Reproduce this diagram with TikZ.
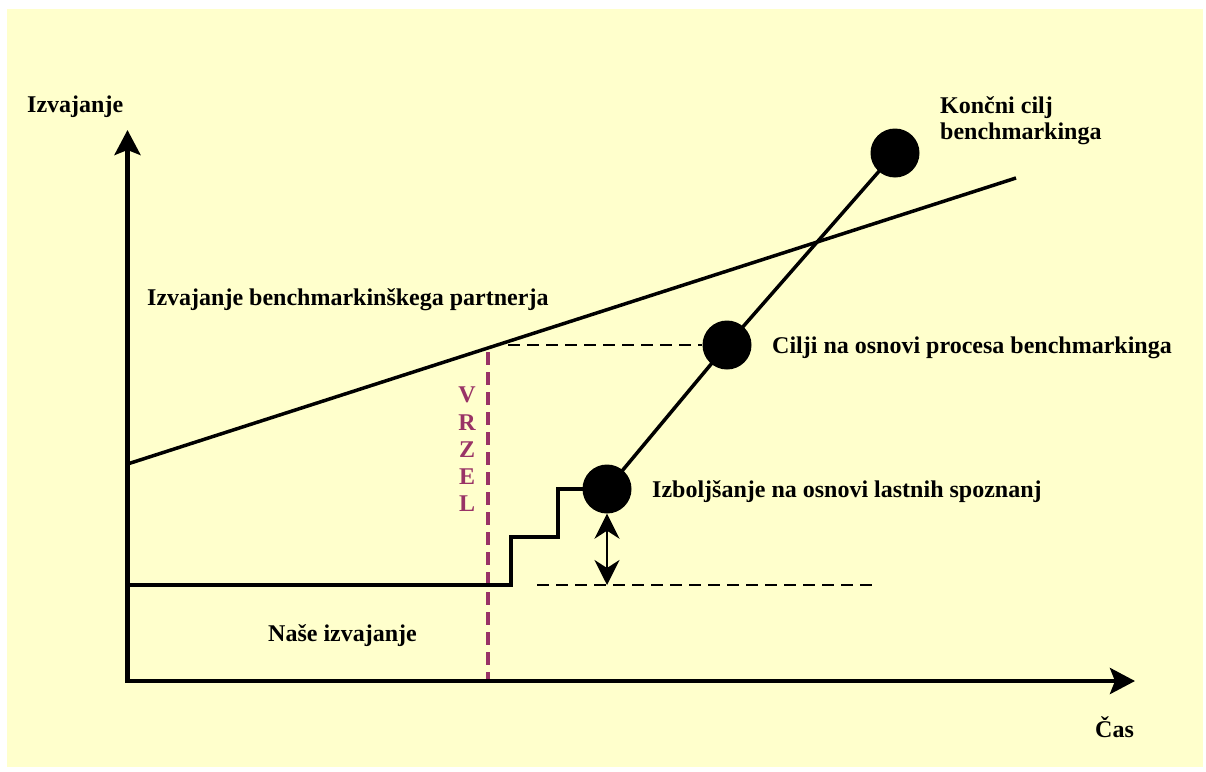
\documentclass[tikz,border=0pt]{standalone}
\usepackage{fontspec}
\setmainfont{Liberation Serif}
\usetikzlibrary{arrows.meta}
\definecolor{paper}{RGB}{255,255,204}
\definecolor{gapcol}{RGB}{153,51,102}
\begin{document}
\begin{tikzpicture}[x=1pt,y=-1pt,
  lbl/.style={font=\bfseries\fontsize{24}{26}\selectfont, inner sep=0pt, anchor=base west},
  axis/.style={line width=4.5pt, line join=miter,
    {Stealth[length=25pt,width=26pt,inset=5pt]}-{Stealth[length=25pt,width=26pt,inset=5pt]}},
  span/.style={line width=2.5pt,
    {Stealth[length=25pt,width=25pt,inset=8pt]}-{Stealth[length=25pt,width=25pt,inset=8pt]}},
  trend/.style={line width=3.5pt},
  dot/.style={circle, fill=black, minimum size=49pt, inner sep=0pt},
  guide/.style={line width=2pt, dash pattern=on 12pt off 7pt},
  gapline/.style={gapcol, line width=4pt, dash pattern=on 13pt off 7pt},
  gaptxt/.style={font=\bfseries\fontsize{24}{26}\selectfont, text=gapcol, inner sep=0pt, anchor=base}]
\useasboundingbox (0,0) rectangle (1206,771);
\fill[white] (0,0) rectangle (1206,771);
\fill[paper] (7,9) rectangle (1203,767);

% axes
\coordinate (O) at (127.5,681);
\coordinate (ytip) at (127.5,130);
\coordinate (xtip) at (1135,681);

% benchmarking partner trend
\coordinate (pa) at (127.5,464);
\coordinate (pb) at (1016,178);

% own performance steps
\coordinate (s0) at (127.5,585);
\coordinate (s1) at (511,585);
\coordinate (s2) at (511,537);
\coordinate (s3) at (558,537);
\coordinate (s4) at (558,489);

% goal markers
\node[dot] (c1) at (607,489) {};
\node[dot] (c2) at (727,345) {};
\node[dot] (c3) at (895,153) {};

% guide lines
\coordinate (g1) at (508,345);
\coordinate (g2) at (537,585);
\coordinate (g3) at (873,585);
\coordinate (g4) at (607,585);
\coordinate (v0) at (487.5,352);
\coordinate (v1) at (487.5,683);

\draw[gapline] (v0) -- (v1);
\draw[guide] (g1) -- (c2.west);
\draw[guide] (g2) -- (g3);
\draw[axis] (ytip) -- (O) -- (xtip);
\draw[trend] (pa) -- (pb);
\draw[trend] (s0) -- (s1) -- (s2) -- (s3) -- (s4) -- (c1.center);
\draw[trend] (c1.center) -- (c2.center) -- (c3.center);
\draw[span] (c1.south) -- (g4);

% labels
\node[lbl] (ly) at (27,112) {Izvajanje};
\node[lbl] (lx) at (1095,737) {Čas};
\node[lbl, anchor=north west, align=left] (lgoal) at (940,96) {Končni cilj\\benchmarkinga};
\node[lbl] (lpartner) at (147,305) {Izvajanje benchmarkinškega partnerja};
\node[lbl] (lproc) at (772,353) {Cilji na osnovi procesa benchmarkinga};
\node[lbl] (lown) at (652,497) {Izboljšanje na osnovi lastnih spoznanj};
\node[lbl] (lours) at (268,641) {Naše izvajanje};

% gap label
\node[gaptxt] (gv) at (467,402) {V};
\node[gaptxt] (gr) at (467,430) {R};
\node[gaptxt] (gz) at (467,457) {Z};
\node[gaptxt] (ge) at (467,484) {E};
\node[gaptxt] (gl) at (467,511) {L};
\end{tikzpicture}
\end{document}
